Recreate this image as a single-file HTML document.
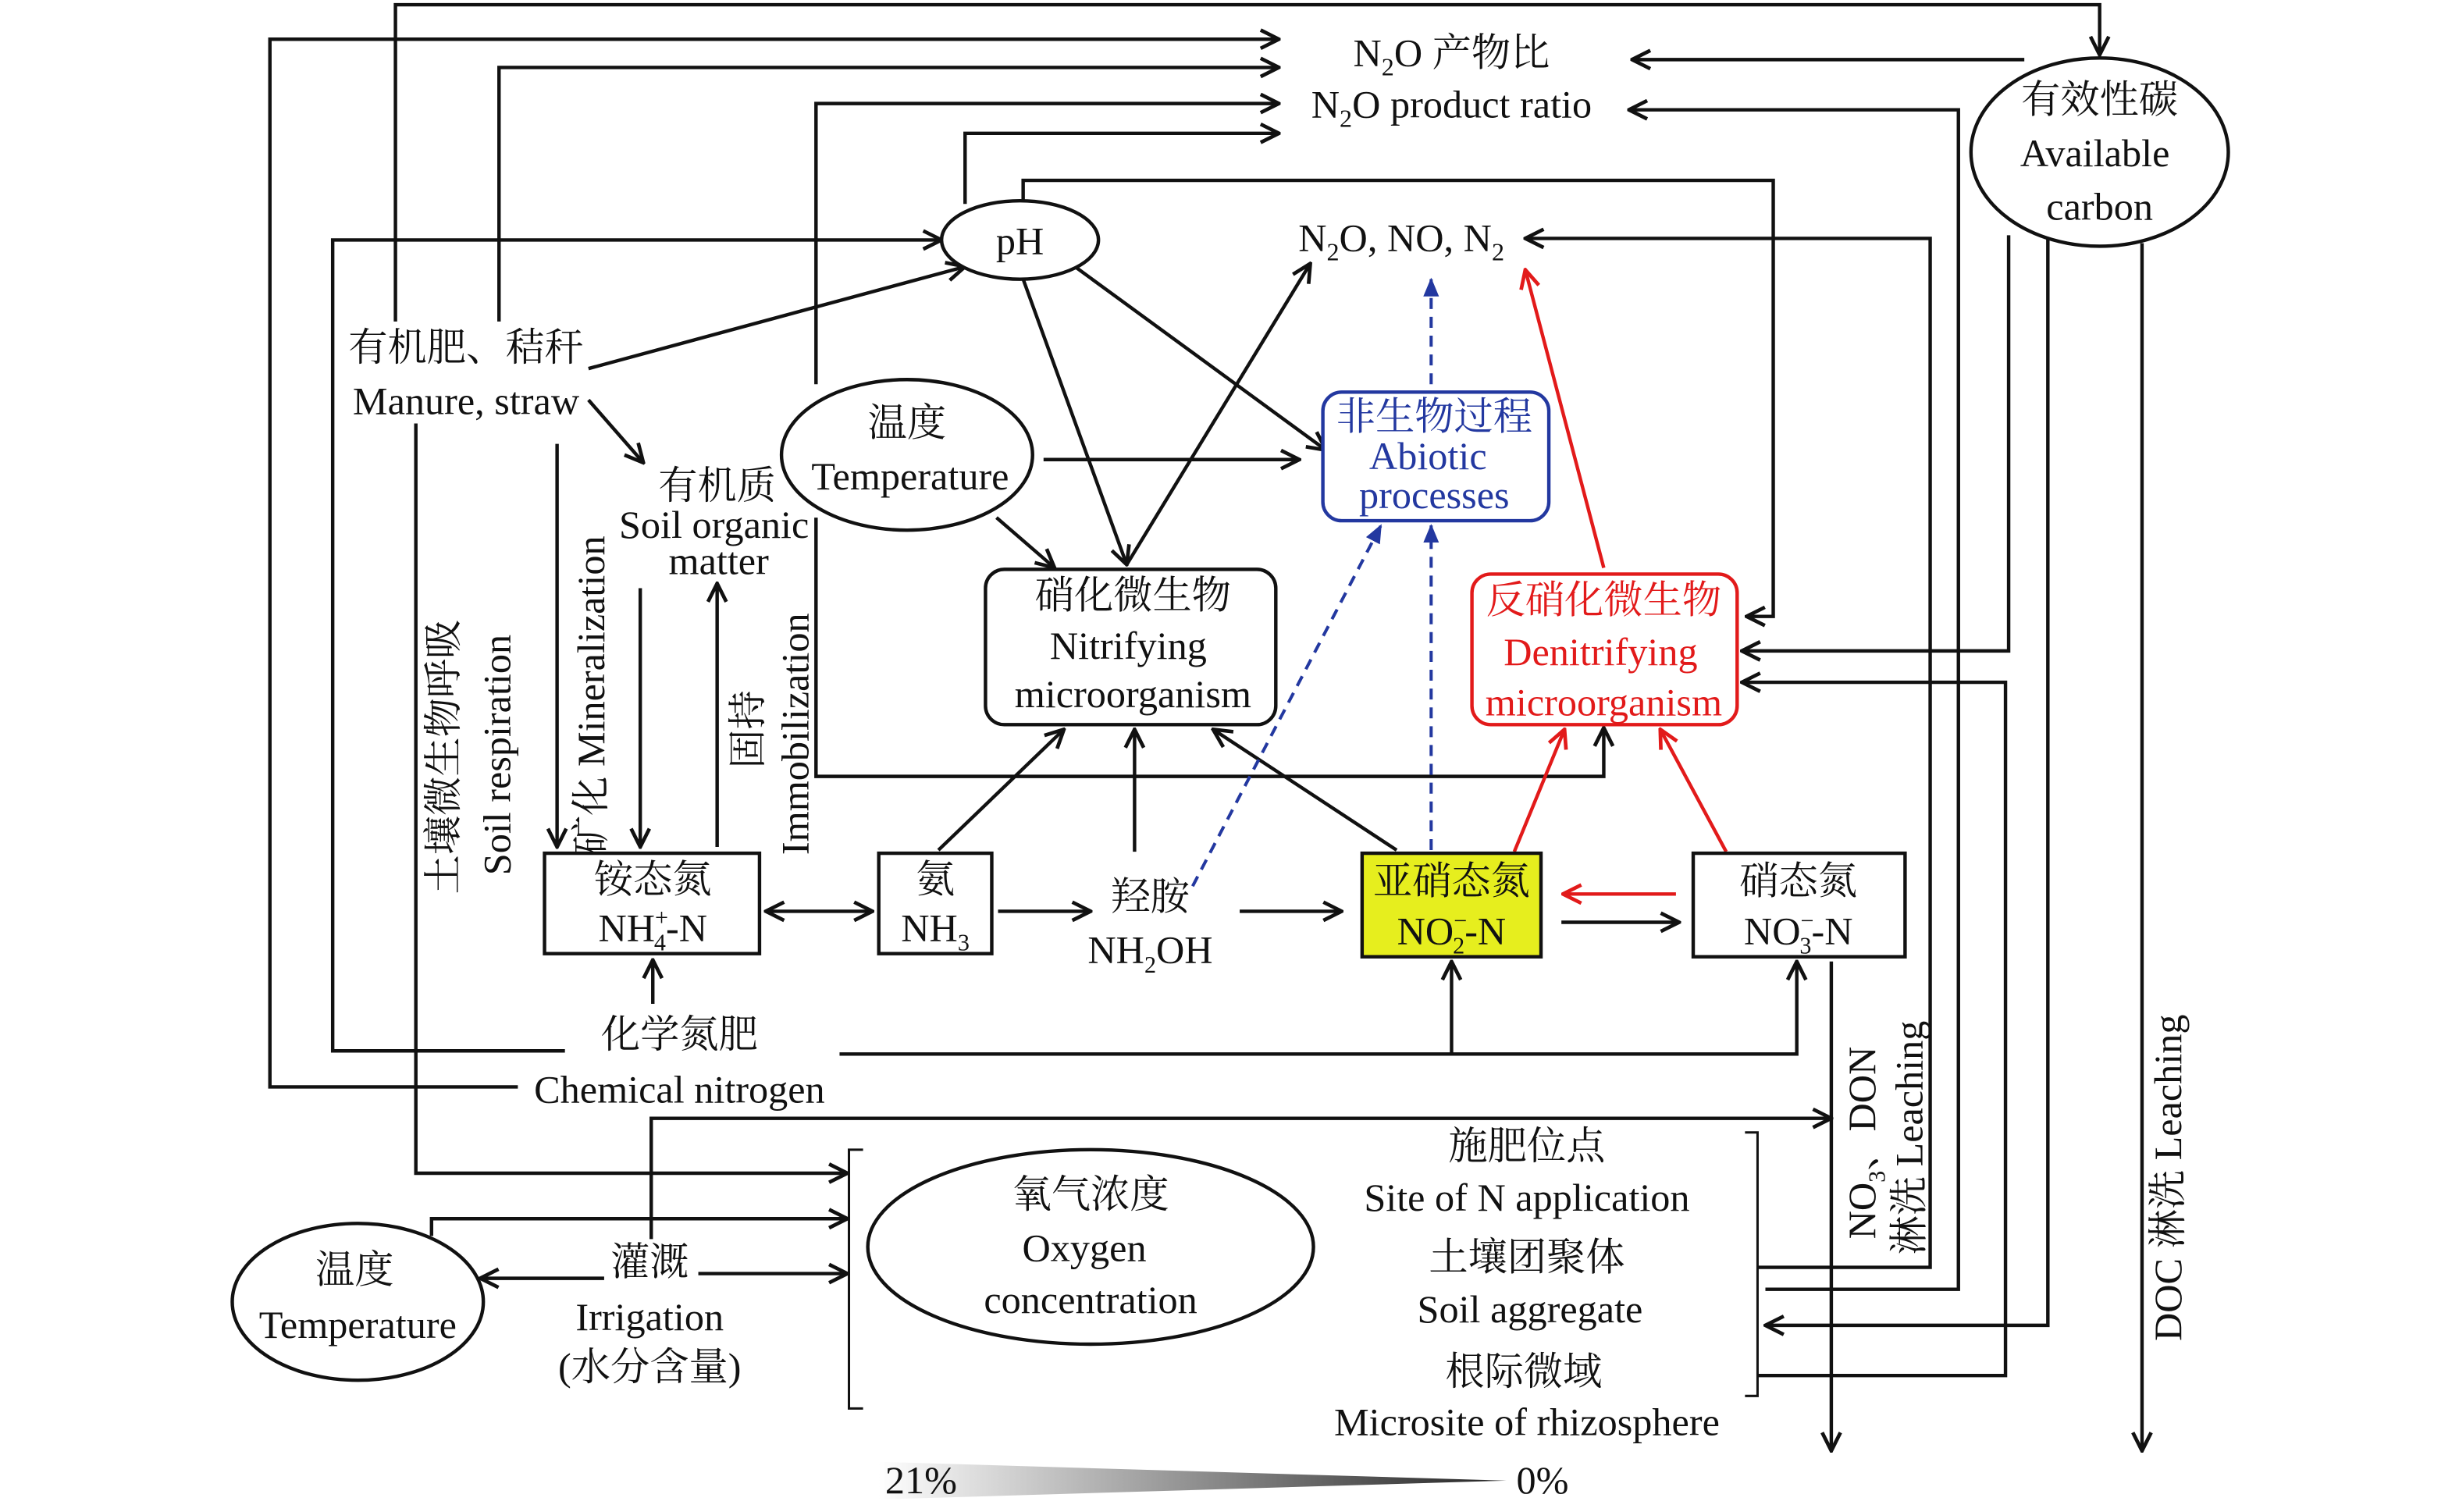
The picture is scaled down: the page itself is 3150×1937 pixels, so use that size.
<!DOCTYPE html>
<html><head><meta charset="utf-8"><style>
html,body{margin:0;padding:0;background:#fff}
svg{display:block}
text{font-family:"Liberation Serif","Noto Serif CJK SC","Noto Sans CJK SC",serif;font-size:25px;fill:#111}
</style></head><body>
<svg width="3150" height="1937" viewBox="0 0 1567 964" preserveAspectRatio="none" xmlns="http://www.w3.org/2000/svg">
<defs>
<marker id="a" viewBox="0 0 12 12" refX="11" refY="6" markerWidth="14" markerHeight="14" markerUnits="userSpaceOnUse" orient="auto"><path d="M1,1 L11,6 L1,11" fill="none" stroke="#111" stroke-width="2"/></marker>
<marker id="r" viewBox="0 0 12 12" refX="11" refY="6" markerWidth="14" markerHeight="14" markerUnits="userSpaceOnUse" orient="auto"><path d="M1,1 L11,6 L1,11" fill="none" stroke="#e21a1a" stroke-width="2"/></marker>
<marker id="b" viewBox="0 0 12 12" refX="11" refY="6" markerWidth="12" markerHeight="12" markerUnits="userSpaceOnUse" orient="auto"><path d="M0,1 L12,6 L0,11 z" fill="#2338a0"/></marker>
<marker id="as" viewBox="0 0 12 12" refX="1" refY="6" markerWidth="14" markerHeight="14" markerUnits="userSpaceOnUse" orient="auto"><path d="M11,1 L1,6 L11,11" fill="none" stroke="#111" stroke-width="2"/></marker>
<linearGradient id="g" x1="0" x2="1"><stop offset="0" stop-color="#fff"/><stop offset="1" stop-color="#222"/></linearGradient>
</defs>
<g fill="none" stroke="#111" stroke-width="2.2">
<polyline points="252,205 252,3 1338,3 1338,35" marker-end="url(#a)"/>
<polyline points="330,693 172,693 172,25 815,25" marker-end="url(#a)"/>
<polyline points="318,205 318,43 815,43" marker-end="url(#a)"/>
<polyline points="520,245 520,66 815,66" marker-end="url(#a)"/>
<polyline points="615,130 615,85 815,85" marker-end="url(#a)"/>
<polyline points="1290,38 1040,38" marker-end="url(#a)"/>
<polyline points="1120,808 1230,808 1230,152 972,152" marker-end="url(#a)"/>
<polyline points="1125,822 1248,822 1248,70 1038,70" marker-end="url(#a)"/>
<polyline points="1280,150 1280,415 1110,415" marker-end="url(#a)"/>
<polyline points="1120,877 1278,877 1278,435 1110,435" marker-end="url(#a)"/>
<polyline points="1305,150 1305,845 1125,845" marker-end="url(#a)"/>
<polyline points="1365,155 1365,925" marker-end="url(#a)"/>
<polyline points="652,128 652,115 1130,115 1130,393 1113,393" marker-end="url(#a)"/>
<polyline points="360,670 212,670 212,153 600,153" marker-end="url(#a)"/>
<line x1="375" y1="235" x2="615" y2="170" marker-end="url(#a)"/>
<line x1="375" y1="255" x2="410" y2="295" marker-end="url(#a)"/>
<line x1="355" y1="283" x2="355" y2="540" marker-end="url(#a)"/>
<line x1="408" y1="375" x2="408" y2="540" marker-end="url(#a)"/>
<line x1="457" y1="540" x2="457" y2="372" marker-end="url(#a)"/>
<polyline points="265,270 265,748 540,748" marker-end="url(#a)"/>
<line x1="665" y1="293" x2="828" y2="293" marker-end="url(#a)"/>
<line x1="635" y1="330" x2="672" y2="362" marker-end="url(#a)"/>
<line x1="652" y1="178" x2="718" y2="360" marker-end="url(#a)"/>
<line x1="685" y1="170" x2="845" y2="287" marker-end="url(#a)"/>
<line x1="718" y1="360" x2="835" y2="168" marker-end="url(#a)"/>
<polyline points="520,330 520,495 1022,495 1022,464" marker-end="url(#a)"/>
<line x1="995" y1="588" x2="1070" y2="588" marker-end="url(#a)"/>
<line x1="488" y1="581" x2="556" y2="581" marker-end="url(#a)" marker-start="url(#as)"/>
<line x1="636" y1="581" x2="695" y2="581" marker-end="url(#a)"/>
<line x1="790" y1="581" x2="855" y2="581" marker-end="url(#a)"/>
<line x1="598" y1="542" x2="678" y2="465" marker-end="url(#a)"/>
<line x1="723" y1="543" x2="723" y2="465" marker-end="url(#a)"/>
<line x1="890" y1="542" x2="773" y2="465" marker-end="url(#a)"/>
<line x1="416" y1="640" x2="416" y2="612" marker-end="url(#a)"/>
<polyline points="535,672 1145,672 1145,613" marker-end="url(#a)"/>
<line x1="925" y1="672" x2="925" y2="613" marker-end="url(#a)"/>
<line x1="1167" y1="613" x2="1167" y2="925" marker-end="url(#a)"/>
<polyline points="415,790 415,713 1167,713" marker-end="url(#a)"/>
<polyline points="275,788 275,777 540,777" marker-end="url(#a)"/>
<line x1="385" y1="815" x2="306" y2="815" marker-end="url(#a)"/>
<line x1="445" y1="812" x2="540" y2="812" marker-end="url(#a)"/>
<polyline points="550,733 541,733 541,898 550,898" stroke-width="1.5"/>
<polyline points="1112,722 1120,722 1120,890 1112,890" stroke-width="1.5"/>
</g>
<g fill="none" stroke="#e21a1a" stroke-width="2.2">
<line x1="1022" y1="362" x2="972" y2="172" marker-end="url(#r)"/>
<line x1="965" y1="543" x2="997" y2="465" marker-end="url(#r)"/>
<line x1="1100" y1="543" x2="1058" y2="465" marker-end="url(#r)"/>
<line x1="1068" y1="570" x2="996" y2="570" marker-end="url(#r)"/>
</g>
<g fill="none" stroke="#2338a0" stroke-width="2" stroke-dasharray="7,5">
<line x1="912" y1="245" x2="912" y2="178" marker-end="url(#b)"/>
<line x1="912" y1="542" x2="912" y2="335" marker-end="url(#b)"/>
<line x1="760" y1="565" x2="880" y2="335" marker-end="url(#b)"/>
</g>
<g stroke="#111" stroke-width="2.2" fill="#fff">
<ellipse cx="1338" cy="97" rx="82" ry="60"/>
<ellipse cx="650" cy="153" rx="50" ry="25"/>
<ellipse cx="578" cy="290" rx="80" ry="48"/>
<ellipse cx="695" cy="795" rx="142" ry="62"/>
<ellipse cx="228" cy="830" rx="80" ry="50"/>
<rect x="628" y="363" width="185" height="99" rx="12"/>
<rect x="347" y="544" width="137" height="64"/>
<rect x="560" y="544" width="72" height="64"/>
<rect x="868" y="544" width="114" height="66" fill="#e6ee1e"/>
<rect x="1079" y="544" width="135" height="66"/>
</g>
<rect x="843" y="250" width="144" height="82" rx="12" fill="#fff" stroke="#2338a0" stroke-width="2.2"/>
<rect x="938" y="366" width="169" height="96" rx="12" fill="#fff" stroke="#e21a1a" stroke-width="2.2"/>
<polygon points="560,932 960,944 560,956" fill="url(#g)"/>
<g text-anchor="middle">
<text x="925" y="42">N<tspan font-size="16" dy="6">2</tspan><tspan dy="-6">O 产物比</tspan></text>
<text x="925" y="75">N<tspan font-size="16" dy="6">2</tspan><tspan dy="-6">O product ratio</tspan></text>
<text x="1338" y="72">有效性碳</text>
<text x="1335" y="106">Available</text>
<text x="1338" y="140">carbon</text>
<text x="650" y="162">pH</text>
<text x="893" y="160">N<tspan font-size="16" dy="6">2</tspan><tspan dy="-6">O, NO, N</tspan><tspan font-size="16" dy="6">2</tspan></text>
<text x="297" y="230">有机肥、秸秆</text>
<text x="297" y="264">Manure, straw</text>
<text x="578" y="278">温度</text>
<text x="580" y="312">Temperature</text>
<text x="457" y="318">有机质</text>
<text x="455" y="343">Soil organic</text>
<text x="458" y="366">matter</text>
<text x="914" y="274" style="fill:#2338a0">非生物过程</text><text x="910" y="299" style="fill:#2338a0">Abiotic</text><text x="914" y="324" style="fill:#2338a0">processes</text>
<text x="722" y="388">硝化微生物</text>
<text x="719" y="420">Nitrifying</text>
<text x="722" y="451">microorganism</text>
<text x="1022" y="391" style="fill:#e21a1a">反硝化微生物</text>
<text x="1020" y="424" style="fill:#e21a1a">Denitrifying</text>
<text x="1022" y="456" style="fill:#e21a1a">microorganism</text>
<text x="416" y="569">铵态氮</text>
<text x="416" y="600">NH<tspan font-size="15" dy="-10">+</tspan><tspan font-size="15" dx="-9" dy="16">4</tspan><tspan dy="-6">-N</tspan></text>
<text x="596" y="569">氨</text>
<text x="596" y="600">NH<tspan font-size="15" dy="6">3</tspan></text>
<text x="733" y="580">羟胺</text>
<text x="733" y="614">NH<tspan font-size="15" dy="6">2</tspan><tspan dy="-6">OH</tspan></text>
<text x="925" y="570">亚硝态氮</text>
<text x="925" y="602">NO<tspan font-size="15" dy="-10">−</tspan><tspan font-size="15" dx="-9" dy="16">2</tspan><tspan dy="-6">-N</tspan></text>
<text x="1146" y="570">硝态氮</text>
<text x="1146" y="602">NO<tspan font-size="15" dy="-10">−</tspan><tspan font-size="15" dx="-9" dy="16">3</tspan><tspan dy="-6">-N</tspan></text>
<text x="433" y="668">化学氮肥</text>
<text x="433" y="703">Chemical nitrogen</text>
<text x="973" y="739">施肥位点</text>
<text x="973" y="772">Site of N application</text>
<text x="973" y="810">土壤团聚体</text>
<text x="975" y="843">Soil aggregate</text>
<text x="971" y="883">根际微域</text>
<text x="973" y="915">Microsite of rhizosphere</text>
<text x="695" y="770">氧气浓度</text>
<text x="691" y="804">Oxygen</text>
<text x="695" y="837">concentration</text>
<text x="226" y="818">温度</text>
<text x="228" y="853">Temperature</text>
<text x="414" y="813">灌溉</text>
<text x="414" y="848">Irrigation</text>
<text x="414" y="880">(水分含量)</text>
<text x="587" y="952">21%</text>
<text x="983" y="952">0%</text>
</g>
<g>
<text transform="translate(291,570) rotate(-90)">土壤微生物呼吸</text>
<text transform="translate(325,558) rotate(-90)">Soil respiration</text>
<text transform="translate(385,545) rotate(-90)">矿化 Mineralization</text>
<text transform="translate(485,490) rotate(-90)">固持</text>
<text transform="translate(515,545) rotate(-90)">Immobilization</text>
<text transform="translate(1195,790) rotate(-90)">NO<tspan font-size="15" dy="6">3</tspan><tspan dy="-6">、DON</tspan></text>
<text transform="translate(1225,800) rotate(-90)">淋洗 Leaching</text>
<text transform="translate(1390,855) rotate(-90)">DOC 淋洗 Leaching</text>
</g>
</svg>
</body></html>
